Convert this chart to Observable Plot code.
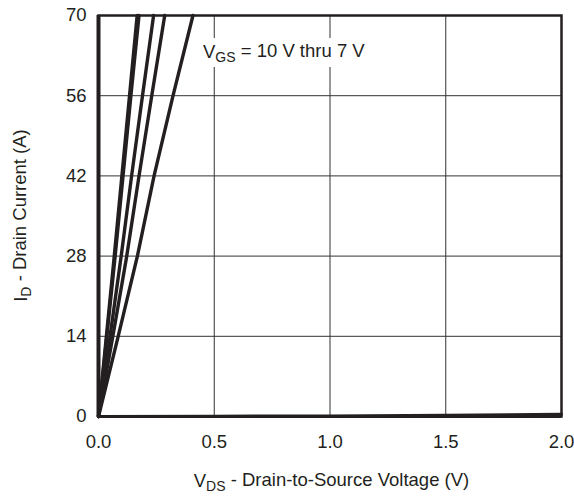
<!DOCTYPE html>
<html>
<head>
<meta charset="utf-8">
<script src="https://cdn.jsdelivr.net/npm/d3@7"></script>
<script src="https://cdn.jsdelivr.net/npm/@observablehq/plot@0.6"></script>
<style>
  html, body { margin: 0; padding: 0; background: #fff; }
  #chart svg { display: block; }
</style>
</head>
<body>
<div id="chart"></div>
<script>
// ---- data ----
const idValues = [0, 14, 28, 42, 56, 70];            // drain current (A)
const vds10V = [0, 0.034, 0.068, 0.101, 0.134, 0.167]; // V_DS (V)
const vds9V  = [0, 0.036, 0.072, 0.106, 0.140, 0.175];
const vds8V  = [0, 0.050, 0.098, 0.143, 0.190, 0.238];
const vds7V  = [0, 0.062, 0.122, 0.175, 0.230, 0.286];
const vds6V  = [0, 0.085, 0.168, 0.240, 0.322, 0.408];
const lowVds = [0, 0.5, 1.0, 1.5, 2.0];
const lowId  = [0, 0.05, 0.1, 0.2, 0.4];
const seriesNames = ["10 V", "9 V", "8 V", "7 V", "6 V"];
const xTicks = [0, 0.5, 1.0, 1.5, 2.0];
const yTicks = [0, 14, 28, 42, 56, 70];

const seriesVds = [vds10V, vds9V, vds8V, vds7V, vds6V];
const rows = [];
seriesNames.forEach((name, i) => {
  seriesVds[i].forEach((v, j) => rows.push({series: name, vds: v, id: idValues[j]}));
});
const lowRows = lowVds.map((v, j) => ({series: "low", vds: v, id: lowId[j]}));

const ink = "#231f20";
const font = "'Liberation Sans', Arial, Helvetica, sans-serif";
const fs = "18.5px";
const subFs = "14px";

const plot = Plot.plot({
  width: 574,
  height: 498,
  marginLeft: 98,
  marginRight: 13,
  marginTop: 15,
  marginBottom: 82,
  style: {fontFamily: font, fontSize: fs, color: ink, background: "#fff"},
  x: {domain: [0, 2], ticks: xTicks},
  y: {domain: [0, 70], ticks: yTicks},
  marks: [
    Plot.gridX(xTicks.slice(1, -1), {stroke: "#333", strokeOpacity: 1, strokeWidth: 1}),
    Plot.gridY(yTicks.slice(1, -1), {stroke: "#333", strokeOpacity: 1, strokeWidth: 1}),
    Plot.axisX({ticks: xTicks, tickFormat: d => d.toFixed(1), tickSize: 0, tickPadding: 18, label: null, fill: ink}),
    Plot.axisY({ticks: yTicks, tickSize: 0, tickPadding: 12, label: null, fill: ink}),
    Plot.frame({stroke: ink, strokeWidth: 2.5}),
    Plot.ruleX([0], {stroke: ink, strokeWidth: 4}),
    Plot.ruleY([0], {stroke: ink, strokeWidth: 3}),
    Plot.line(lowRows, {x: "vds", y: "id", stroke: ink, strokeWidth: 3}),
    Plot.line(rows, {x: "vds", y: "id", z: "series", stroke: ink, strokeWidth: 3.4, strokeLinejoin: "round"})
  ]
});
document.getElementById("chart").appendChild(plot);

// ---- text with subscripts ----
const svg = d3.select(plot);
const xs = plot.scale("x"), ys = plot.scale("y");
const midX = (xs.range[0] + xs.range[1]) / 2;
const midY = (ys.range[0] + ys.range[1]) / 2;

function subText(g, main, sub, rest) {
  g.append("tspan").text(main);
  g.append("tspan").attr("dy", "0.25em").attr("font-size", subFs).text(sub);
  g.append("tspan").attr("dy", "-0.25em").text(rest);
}

// annotation with white background
const ann = svg.append("g");
const annRect = ann.append("rect").attr("fill", "#fff");
const annText = ann.append("text")
  .attr("x", 203).attr("y", 58).attr("text-anchor", "start")
  .attr("font-family", font).attr("font-size", fs).attr("fill", ink);
subText(annText, "V", "GS", " = 10 V thru 7 V");
const bb = annText.node().getBBox();
annRect.attr("x", bb.x - 3).attr("y", 38).attr("width", bb.width + 6).attr("height", 29);

// x axis label
const xl = svg.append("text")
  .attr("x", midX + 2).attr("y", 487).attr("text-anchor", "middle")
  .attr("font-family", font).attr("font-size", fs).attr("fill", ink);
subText(xl, "V", "DS", " - Drain-to-Source Voltage (V)");

// y axis label
const yl = svg.append("text")
  .attr("transform", `translate(27,${midY}) rotate(-90)`).attr("text-anchor", "middle")
  .attr("font-family", font).attr("font-size", fs).attr("fill", ink);
subText(yl, "I", "D", " - Drain Current (A)");
</script>
</body>
</html>
